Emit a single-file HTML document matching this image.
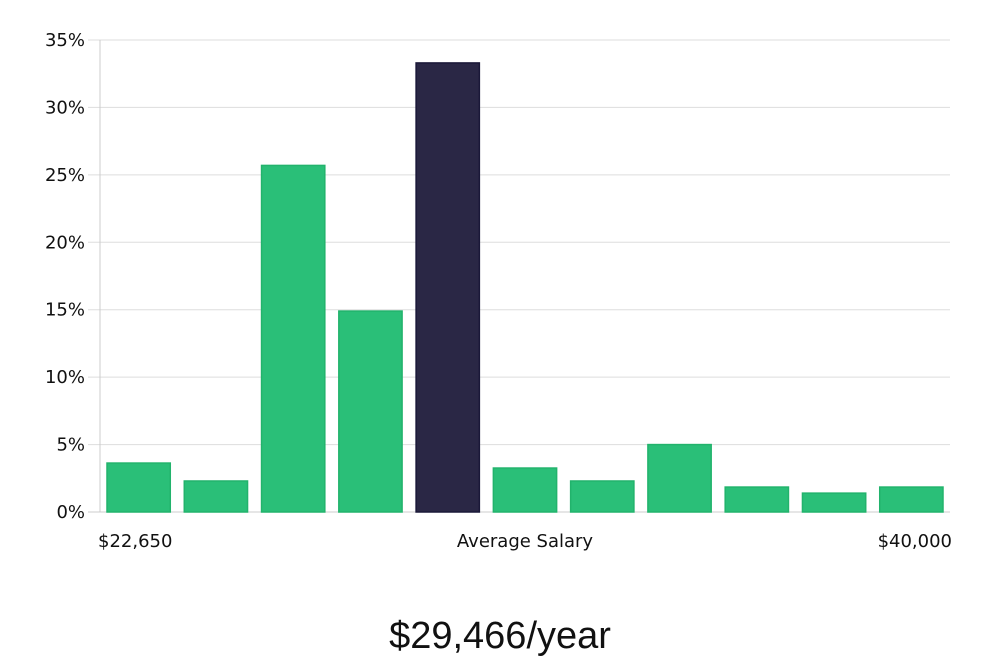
<!DOCTYPE html>
<html><head><meta charset="utf-8"><style>
body{margin:0;background:#fff;width:1000px;height:660px;overflow:hidden}
svg text{font-family:"DejaVu Sans","Liberation Sans",sans-serif}
</style></head><body>
<svg id="chart" width="1000" height="660" xmlns="http://www.w3.org/2000/svg">
<g id="grid"></g>
<g id="yticks"></g>
<g id="bars"></g>
<text x="98" y="547" font-size="18" fill="#111">$22,650</text>
<text x="525" y="547" font-size="18" fill="#111" text-anchor="middle">Average Salary</text>
<text x="952" y="547" font-size="18" fill="#111" text-anchor="end">$40,000</text>
<text x="500" y="648" font-size="38" fill="#111" text-anchor="middle" style="font-family:'Liberation Sans',sans-serif">$29,466/year</text>
</svg>
<script>
const values=[3.63,2.3,25.7,14.9,33.3,3.26,2.3,5.0,1.85,1.4,1.85];
const highlight=[false,false,false,false,true,false,false,false,false,false,false];
const yTicks=[0,5,10,15,20,25,30,35];
const NS="http://www.w3.org/2000/svg";
const x0=100,x1=950,y0=512,yTop=40,yMax=35;
const y=v=>y0-(v/yMax)*(y0-yTop);
const slot=(x1-x0)/values.length;
const xb=i=>x0+i*slot+7;
const g=document.getElementById('grid'),yt=document.getElementById('yticks'),b=document.getElementById('bars');
yTicks.forEach(t=>{
  const l=document.createElementNS(NS,'line');
  
  
  l.setAttribute('x1',t===0?88:88);l.setAttribute('x2',x1);
  l.setAttribute('y1',y(t));l.setAttribute('y2',y(t));
  l.setAttribute('stroke',t===0?'#ccc':'#ddd');l.setAttribute('stroke-width','1');
  g.appendChild(l);
  const tx=document.createElementNS(NS,'text');
  
  
  tx.setAttribute('x',85);tx.setAttribute('y',y(t)+6);
  tx.setAttribute('text-anchor','end');tx.setAttribute('font-size','18');tx.setAttribute('fill','#111');
  tx.textContent=t+'%';yt.appendChild(tx);
});
const ax=document.createElementNS(NS,'line');


ax.setAttribute('x1',x0);ax.setAttribute('x2',x0);ax.setAttribute('y1',yTop);ax.setAttribute('y2',y0);
ax.setAttribute('stroke','#ccc');g.appendChild(ax);
values.forEach((v,i)=>{
  const r=document.createElementNS(NS,'rect');
  
  
  r.setAttribute('x',xb(i));r.setAttribute('width',slot-14);
  r.setAttribute('y',y(v));r.setAttribute('height',y0-y(v));
  r.setAttribute('fill',highlight[i]?'#2a2745':'#2abf78');
  r.setAttribute('stroke',highlight[i]?'#1a1838':'#22b36c');r.setAttribute('stroke-width','1.5');
  b.appendChild(r);
});
</script>
</body></html>
